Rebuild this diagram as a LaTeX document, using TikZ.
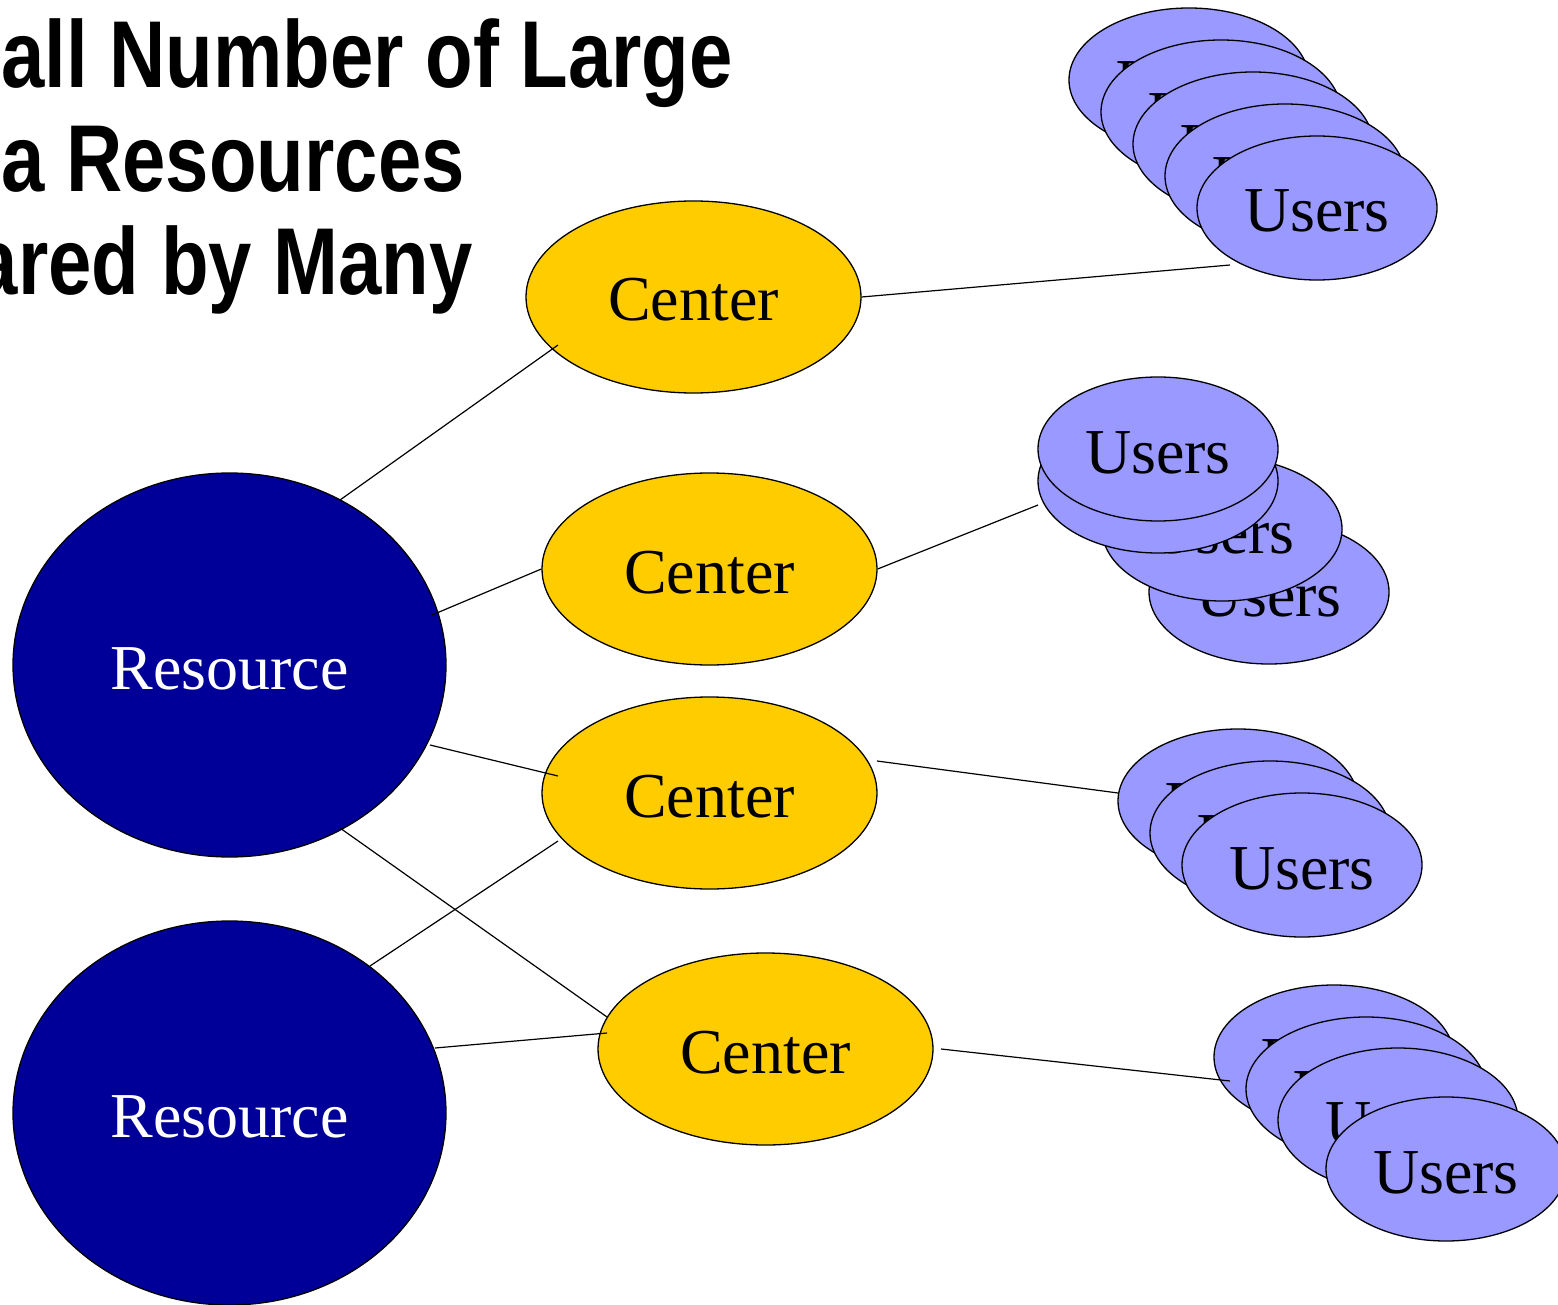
\documentclass[tikz,border=0pt]{standalone}
\usepackage{fontspec}
\setmainfont{Liberation Serif}
\newfontfamily\titlefont[FakeStretch=0.82]{Liberation Sans}
\usetikzlibrary{shapes.geometric,calc}
\definecolor{resblue}{RGB}{0,0,153}
\definecolor{cenyellow}{RGB}{255,204,0}
\definecolor{userblue}{RGB}{153,153,255}
\tikzset{
  ell/.style={ellipse, draw=black, line width=1.3pt, inner sep=0pt,
    text height=48pt, text depth=0pt, font=\fontsize{64}{70}\selectfont},
  resnode/.style={ell, fill=resblue, text=white, minimum width=433pt, minimum height=384pt},
  cennode/.style={ell, fill=cenyellow, minimum width=335pt, minimum height=192pt},
  usernode/.style={ell, fill=userblue, minimum width=240pt, minimum height=144pt},
  link/.style={draw=black, line width=1.2pt},
  titletext/.style={anchor=base east, inner sep=0pt, font=\titlefont\bfseries\fontsize{95}{103}\selectfont}
}
\begin{document}
\begin{tikzpicture}[x=1pt,y=-1pt]
\useasboundingbox (0,0) rectangle (1558,1305);
% title
\node[titletext] (t1) at (733,88) {all Number of Large};
\node[titletext] (t2) at (465,192) {a Resources};
\node[titletext] (t3) at (473,295) {ared by Many};
% resources
\node[resnode] (r1) at (229.5,665) {Resource};
\node[resnode] (r2) at (229.5,1113) {Resource};
% centers
\node[cennode] (c1) at (693.5,297) {Center};
\node[cennode] (c2) at (709.5,569) {Center};
\node[cennode] (c3) at (709.5,793) {Center};
\node[cennode] (c4) at (765.5,1049) {Center};
% users group 1
\node[usernode] (u11) at (1189,80) {Users};
\node[usernode] (u12) at (1221,112) {Users};
\node[usernode] (u13) at (1253,144) {Users};
\node[usernode] (u14) at (1285,176) {Users};
\node[usernode] (u15) at (1317,208) {Users};
% users group 2
\node[usernode] (u21) at (1269,592) {Users};
\node[usernode] (u22) at (1222,529) {Users};
\node[usernode] (u23) at (1158,481) {Users};
\node[usernode] (u24) at (1158,449) {Users};
% users group 3
\node[usernode] (u31) at (1238,801) {Users};
\node[usernode] (u32) at (1270,833) {Users};
\node[usernode] (u33) at (1302,865) {Users};
% users group 4
\node[usernode] (u41) at (1334,1057) {Users};
\node[usernode] (u42) at (1366,1089) {Users};
\node[usernode] (u43) at (1398,1120) {Users};
\node[usernode] (u44) at (1446,1169) {Users};
% connectors
\draw[link] ($(r1)+(110.5,-165)$) -- ($(c1)+(-135.5,48)$);
\draw[link] ($(r1)+(202.5,-50)$) -- (c2.west);
\draw[link] ($(r1)+(200.5,80)$) -- ($(c3)+(-151.5,-17)$);
\draw[link] ($(r1)+(110.5,163)$) -- ($(c4)+(-158.5,-32)$);
\draw[link] ($(r2)+(140.5,-147)$) -- ($(c3)+(-151.5,48)$);
\draw[link] ($(r2)+(205.5,-65)$) -- ($(c4)+(-158.5,-16)$);
\draw[link] (c1.east) -- ($(u15)+(-87,57)$);
\draw[link] (c2.east) -- ($(u23)+(-120,24)$);
\draw[link] ($(c3)+(167.5,-32)$) -- ($(u31)+(-120,-8)$);
\draw[link] ($(c4)+(175.5,0)$) -- ($(u41)+(-104,24)$);
\end{tikzpicture}
\end{document}
